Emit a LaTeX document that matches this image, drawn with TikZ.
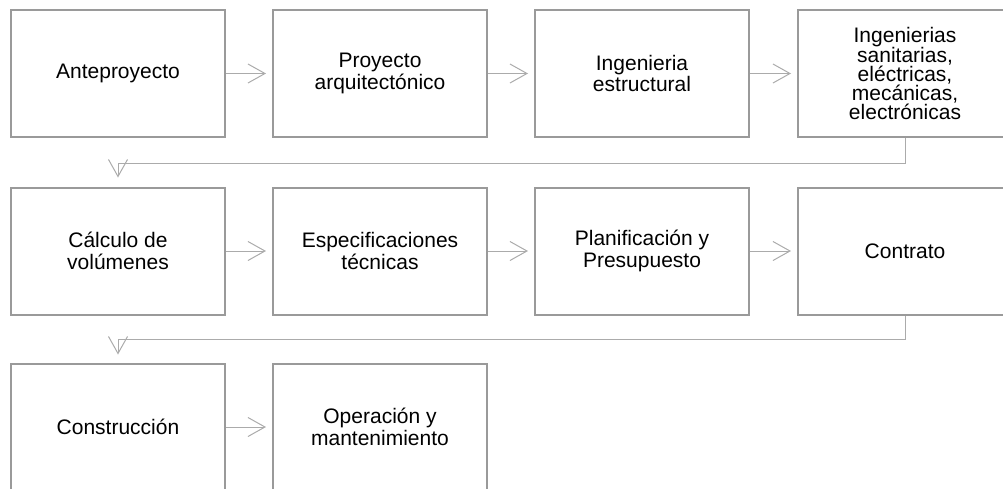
\documentclass[tikz,border=0pt]{standalone}
\usepackage{fontspec}
\setmainfont{Liberation Sans}
\usetikzlibrary{arrows.meta}
\definecolor{boxgray}{HTML}{9A9A9A}
\definecolor{arrgray}{HTML}{ABABAB}
\tikzset{
  stepbox/.style={draw=boxgray, line width=2pt, fill=white, minimum width=214pt, minimum height=127pt,
    align=center, inner sep=2pt, font=\fontsize{21}{21.7}\selectfont, text=black},
  arr/.style={draw=arrgray, line width=1pt, -{Straight Barb[length=17pt,width=19pt,line width=1pt]}}
}
\begin{document}
\begin{tikzpicture}[x=1pt,y=-1pt]
\useasboundingbox (0,0) rectangle (1003,488);
\clip (0,0) rectangle (1003,488);
\node[stepbox] (a1) at (118,73.5) {Anteproyecto};
\node[stepbox] (a2) at (380,73.5) {Proyecto\\arquitectónico};
\node[stepbox] (a3) at (642,73.5) {Ingenieria\\estructural};
\node[stepbox, font=\fontsize{21}{19}\selectfont] (a4) at (905,73.5) {Ingenierias\\sanitarias,\\eléctricas,\\mecánicas,\\electrónicas};
\node[stepbox] (b1) at (118,251) {Cálculo de\\volúmenes};
\node[stepbox] (b2) at (380,251) {Especificaciones\\técnicas};
\node[stepbox] (b3) at (642,251) {Planificación y\\Presupuesto};
\node[stepbox] (b4) at (905,251) {Contrato};
\node[stepbox] (c1) at (118,427) {Construcción};
\node[stepbox] (c2) at (380,427) {Operación y\\mantenimiento};
\draw[arr] (a1.east) -- ([xshift=-6pt]a2.west);
\draw[arr] (a2.east) -- ([xshift=-6pt]a3.west);
\draw[arr] (a3.east) -- ([xshift=-6pt]a4.west);
\draw[arr] (b1.east) -- ([xshift=-6pt]b2.west);
\draw[arr] (b2.east) -- ([xshift=-6pt]b3.west);
\draw[arr] (b3.east) -- ([xshift=-6pt]b4.west);
\draw[arr] (c1.east) -- ([xshift=-6pt]c2.west);
\draw[arr] (a4.south) -- ++(0,25) -| ([yshift=9pt]b1.north);
\draw[arr] (b4.south) -- ++(0,24) -| ([yshift=8pt]c1.north);
\end{tikzpicture}
\end{document}
